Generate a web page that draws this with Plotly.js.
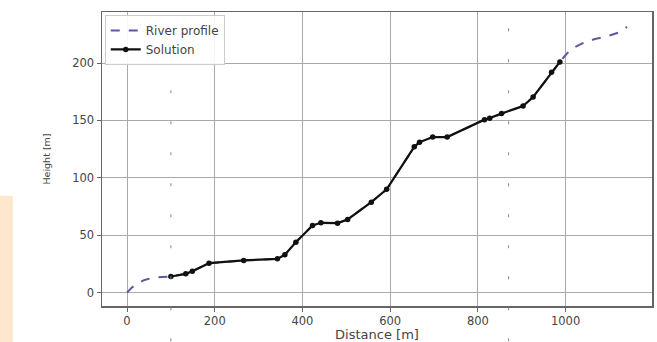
<!DOCTYPE html>
<html>
<head>
<meta charset="utf-8">
<script src="https://cdn.plot.ly/plotly-3.0.1.min.js"></script>
<style>html,body{margin:0;padding:0;background:#fff;}#chart{width:657px;height:342px;}</style>
</head>
<body>
<div id="chart"></div>
<script>
// River profile (dashed)
const riverDistance = [0, 10, 20, 40, 60, 80, 100, 134, 149, 187, 266, 343, 360, 385, 423, 442, 480, 503, 557, 592, 655, 667, 697, 730, 815, 827, 854, 903, 926, 968, 987, 1000, 1014, 1037, 1067, 1097, 1120, 1140];
const riverHeight   = [0, 4, 7, 11, 13, 13.5, 14, 16.3, 18.6, 25.6, 28, 29.4, 33, 43.9, 58.5, 60.8, 60.5, 63.7, 78.8, 90, 127, 131, 135.5, 135.5, 150.7, 152, 156, 162.6, 170.4, 192, 201, 207, 212.6, 217, 221, 223.6, 226.5, 231.5];
// Solution (line + markers)
const solDistance = [100, 134, 149, 187, 266, 343, 360, 385, 423, 442, 480, 503, 557, 592, 655, 667, 697, 730, 815, 827, 854, 903, 926, 968, 987];
const solHeight   = [14, 16.3, 18.6, 25.6, 28, 29.4, 33, 43.9, 58.5, 60.8, 60.5, 63.7, 78.8, 90, 127, 131, 135.5, 135.5, 150.7, 152, 156, 162.6, 170.4, 192, 201];
// Domain boundaries
const boundaries = [100, 870];
const xTicks = [0, 200, 400, 600, 800, 1000];
const yTicks = [0, 50, 100, 150, 200];

const fam = 'DejaVu Sans, sans-serif';
const tickFont = {family: fam, size: 11.5, color: '#444'};

const traces = [
  {x: riverDistance, y: riverHeight, type: 'scatter', mode: 'lines', name: 'River profile',
   line: {color: '#5a5aa0', width: 2, dash: 'dash'}},
  {x: solDistance, y: solHeight, type: 'scatter', mode: 'lines+markers', name: 'Solution',
   line: {color: '#111', width: 2.2}, marker: {color: '#111', size: 5.5}}
];

const shapes = boundaries.map(b => ({
  type: 'line', xref: 'x', yref: 'paper', x0: b, x1: b, y0: -0.12, y1: 1,
  line: {color: '#888', width: 1, dash: '3px,28px'}, layer: 'above'
}));
shapes.push({type: 'rect', xref: 'paper', yref: 'paper', x0: -0.1855, x1: -0.162, y0: -0.13, y1: 0.375,
  fillcolor: 'rgba(253,228,198,0.85)', line: {width: 0}, layer: 'below'});

const axisCommon = {
  showgrid: true, gridcolor: '#aaaaaa', gridwidth: 1,
  zeroline: false, showline: true, linecolor: '#666', linewidth: 1.5, mirror: true,
  ticks: 'outside', ticklen: 4, tickcolor: '#666', tickfont: tickFont
};

const layout = {
  width: 657, height: 342,
  margin: {l: 102, r: 5, t: 12, b: 36},
  paper_bgcolor: '#fff', plot_bgcolor: '#fff',
  font: tickFont,
  showlegend: true,
  legend: {x: 0.005, y: 0.99, xanchor: 'left', yanchor: 'top', bgcolor: 'rgba(255,255,255,0.9)',
           bordercolor: '#ccc', borderwidth: 1, font: {family: fam, size: 12, color: '#444'},
           tracegroupgap: 0},
  xaxis: Object.assign({}, axisCommon, {range: [-57, 1197], tickvals: xTicks,
    title: {text: 'Distance [m]', font: {family: fam, size: 13, color: '#444'}, standoff: 2}}),
  yaxis: Object.assign({}, axisCommon, {range: [-11.7, 244.5], tickvals: yTicks,
    title: {text: 'Height [m]', font: {family: fam, size: 9.5, color: '#444'}, standoff: 20}}),
  shapes: shapes
};

Plotly.newPlot('chart', traces, layout, {staticPlot: true, displayModeBar: false});
</script>
</body>
</html>
